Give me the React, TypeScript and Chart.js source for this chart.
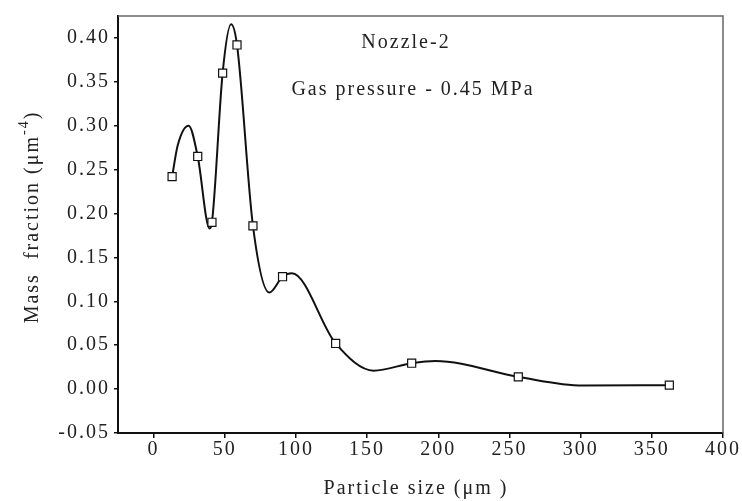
import React, { useEffect, useRef } from "react";
import { Chart, registerables } from "chart.js";

Chart.register(...registerables);

// measured points (squares)
const particleSize = [13, 31, 41, 48.5, 58.6, 69.8, 90.6, 127.9, 181.3, 256.2, 362.3];
const massFraction = [0.242, 0.265, 0.19, 0.36, 0.392, 0.186, 0.128, 0.052, 0.0295, 0.014, 0.0045];

// smooth fitted curve (through the squares and its turning points)
const curveSize = [13, 17, 24.6, 31, 39.3, 41, 48.5, 54.4, 58.6, 69.8, 81.3, 90.6, 97.2, 127.9, 154.6, 181.3, 197.9, 256.2, 301.6, 362.3];
const curveValue = [0.242, 0.278, 0.3, 0.265, 0.183, 0.19, 0.36, 0.4155, 0.392, 0.186, 0.11, 0.128, 0.132, 0.052, 0.021, 0.0295, 0.032, 0.014, 0.004, 0.0045];

const xTicks = [0, 50, 100, 150, 200, 250, 300, 350, 400];
const yTicks = [-0.05, 0, 0.05, 0.1, 0.15, 0.2, 0.25, 0.3, 0.35, 0.4];

const titleLine1 = "Nozzle-2";
const titleLine2 = "Gas pressure - 0.45 MPa";
const xTitle = "Particle size (\u03bcm )";
const yTitleMain = "Mass  fraction (\u03bcm";
const yTitleSup = "-4";
const yTitleEnd = ")";

const FONT = "'Liberation Serif', 'Times New Roman', serif";

const spacingPlugin = {
  id: "spacing",
  beforeDraw(chart: any) {
    (chart.ctx as any).letterSpacing = "2px";
  },
  afterDraw(chart: any) {
    const ctx = chart.ctx as any;
    const ca = chart.chartArea;
    ctx.save();
    // top & right frame
    ctx.strokeStyle = "#666";
    ctx.lineWidth = 1.5;
    ctx.beginPath();
    ctx.moveTo(ca.left, ca.top);
    ctx.lineTo(ca.right, ca.top);
    ctx.lineTo(ca.right, ca.bottom);
    ctx.stroke();

    ctx.fillStyle = "#222";
    ctx.letterSpacing = "2px";
    ctx.font = `20px ${FONT}`;
    ctx.textAlign = "center";
    ctx.textBaseline = "middle";
    ctx.fillText(titleLine1, 406, 43);
    ctx.fillText(titleLine2, 413, 90);

    // x title
    ctx.fillText(xTitle, 416, 489);

    // y title rotated
    ctx.translate(33, 217);
    ctx.rotate(-Math.PI / 2);
    ctx.textAlign = "left";
    ctx.font = `20px ${FONT}`;
    const w1 = ctx.measureText(yTitleMain).width;
    const w3 = ctx.measureText(yTitleEnd).width;
    ctx.font = `14px ${FONT}`;
    const w2 = ctx.measureText(yTitleSup).width;
    let x = -(w1 + w2 + w3) / 2;
    ctx.font = `20px ${FONT}`;
    ctx.fillText(yTitleMain, x, 0);
    x += w1;
    ctx.font = `14px ${FONT}`;
    ctx.fillText(yTitleSup, x, -9);
    x += w2;
    ctx.font = `20px ${FONT}`;
    ctx.fillText(yTitleEnd, x, 0);
    ctx.restore();
    ctx.letterSpacing = "0px";
  },
};

export default function App() {
  const ref = useRef<HTMLCanvasElement | null>(null);
  useEffect(() => {
    if (!ref.current) return;
    const chart = new Chart(ref.current, {
      type: "line",
      data: {
        datasets: [
          {
            label: "Mass fraction",
            data: particleSize.map((s, i) => ({ x: s, y: massFraction[i] })),
            showLine: false,
            pointStyle: "rect",
            pointRadius: 5.7,
            pointBackgroundColor: "#fff",
            pointBorderColor: "#111",
            pointBorderWidth: 1.2,
          },
          {
            label: "Spline",
            data: curveSize.map((s, i) => ({ x: s, y: curveValue[i] })),
            borderColor: "#111",
            borderWidth: 2,
            pointRadius: 0,
            cubicInterpolationMode: "monotone",
            fill: false,
          },
        ],
      },
      options: {
        animation: false,
        responsive: false,
        devicePixelRatio: 1,
        layout: { padding: { top: 14, right: 19, left: 0, bottom: 0 } },
        plugins: { legend: { display: false }, tooltip: { enabled: false } },
        scales: {
          x: {
            type: "linear",
            min: -25,
            max: 400,
            afterBuildTicks: (s: any) => {
              s.ticks = xTicks.map((v) => ({ value: v }));
            },
            afterFit: (s: any) => {
              s.height = 68;
            },
            grid: { display: true, drawOnChartArea: false, drawTicks: true, tickLength: 5, color: "#111", lineWidth: 1.5 },
            border: { display: true, color: "#111", width: 2 },
            ticks: {
              color: "#222",
              font: { family: FONT, size: 20 },
              padding: 0,
              maxRotation: 0,
              callback: (v: any) => String(v),
            },
          },
          y: {
            type: "linear",
            min: -0.05,
            max: 0.425,
            afterBuildTicks: (s: any) => {
              s.ticks = yTicks.map((v) => ({ value: v }));
            },
            afterFit: (s: any) => {
              s.width = 118;
            },
            grid: { display: true, drawOnChartArea: false, drawTicks: true, tickLength: 4, color: "#111", lineWidth: 1.5 },
            border: { display: true, color: "#111", width: 2 },
            ticks: {
              color: "#222",
              font: { family: FONT, size: 20 },
              padding: 4,
              callback: (v: any) => Number(v).toFixed(2),
            },
          },
        },
      },
      plugins: [spacingPlugin],
    } as any);
    return () => chart.destroy();
  }, []);
  return (
    <div style={{ position: "fixed", left: 0, top: 0, width: 742, height: 501, background: "#fff" }}>
      <canvas ref={ref} width={742} height={501} style={{ display: "block" }} />
    </div>
  );
}
